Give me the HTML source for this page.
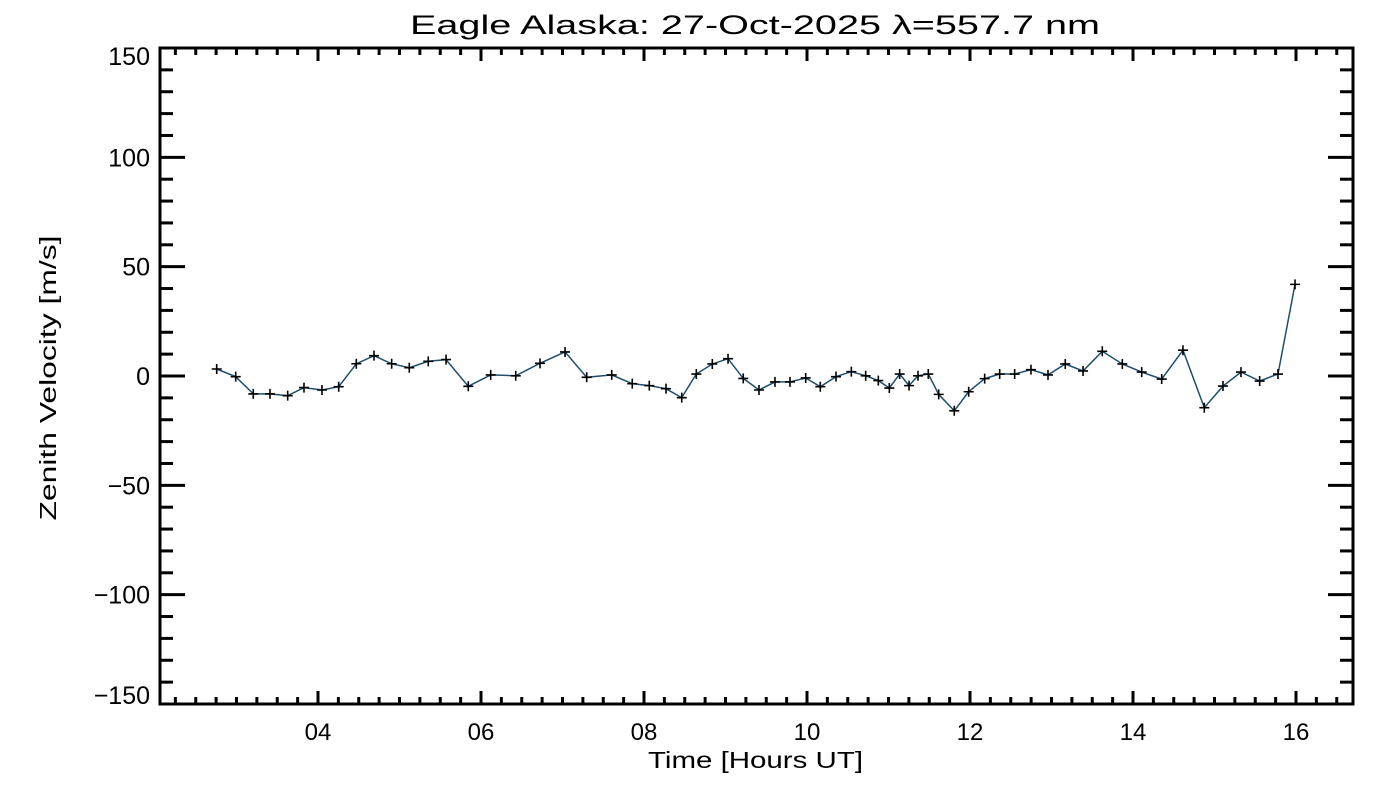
<!DOCTYPE html>
<html><head><meta charset="utf-8"><style>
html,body{margin:0;padding:0;background:#fff;}
svg{display:block;font-family:"Liberation Sans",sans-serif;}
</style></head><body>
<svg id="chart" width="1400" height="800" viewBox="0 0 1400 800" xmlns="http://www.w3.org/2000/svg">
<rect width="1400" height="800" fill="#fff"/>
<text x="410" y="34" font-size="27" textLength="690" lengthAdjust="spacingAndGlyphs" fill="#000">Eagle Alaska: 27-Oct-2025 λ=557.7 nm</text>
<text x="648" y="768" font-size="23" textLength="215" lengthAdjust="spacingAndGlyphs" fill="#000">Time [Hours UT]</text>
<text x="0" y="0" font-size="23" textLength="285" lengthAdjust="spacingAndGlyphs" text-anchor="middle" fill="#000" transform="translate(56,378) rotate(-90)">Zenith Velocity [m/s]</text>
<g id="axes"></g>
<g id="series"></g>
</svg>
<script>
const hours=[2.757,2.99,3.206,3.411,3.628,3.828,4.049,4.254,4.470,4.687,4.904,5.120,5.353,5.571,5.844,6.119,6.426,6.724,7.031,7.297,7.604,7.856,8.065,8.270,8.463,8.642,8.838,9.031,9.218,9.411,9.607,9.791,9.984,10.163,10.356,10.544,10.720,10.875,11.010,11.137,11.252,11.362,11.488,11.616,11.807,11.984,12.180,12.364,12.548,12.748,12.957,13.169,13.387,13.623,13.869,14.107,14.352,14.613,14.875,15.104,15.325,15.554,15.779,15.988];
const velocity=[3.2,-0.3,-8.2,-8.2,-9.0,-5.3,-6.4,-4.9,5.6,9.3,5.6,3.8,6.7,7.5,-4.7,0.5,0.1,5.8,11.0,-0.6,0.5,-3.5,-4.4,-5.8,-9.9,0.9,5.5,7.9,-1.1,-6.4,-2.7,-2.7,-0.9,-4.9,-0.3,2.0,0.1,-2.1,-5.5,0.9,-4.4,0.1,0.9,-8.4,-15.9,-7.2,-1.2,0.9,0.9,2.9,0.5,5.5,2.3,11.3,5.5,1.8,-1.4,11.8,-14.5,-4.6,1.8,-2.3,0.9,41.9];
const xTickValues=[4,6,8,10,12,14,16];
const xTickLabels=["04","06","08","10","12","14","16"];
const yTickValues=[-150,-100,-50,0,50,100,150];
const yTickLabels=["\u2212150","\u2212100","\u221250","0","50","100","150"];

const L=160,R=1353,T=48,B=704;
const xMin=4-(318-L)/81.5, xMax=4+(R-318)/81.5;
const yMin=-150,yMax=150;
function xs(h){return L+(h-xMin)/(xMax-xMin)*(R-L);}
function ys(v){return B-(v-yMin)/(yMax-yMin)*(B-T);}
const NS="http://www.w3.org/2000/svg";
function mk(tag,attrs,parent){const e=document.createElementNS(NS,tag);for(const k in attrs)e.setAttribute(k,attrs[k]);parent.appendChild(e);return e;}
const axes=document.getElementById('axes'), ser=document.getElementById('series');

const frame=mk('rect',{x:L,y:T,width:R-L,height:B-T,fill:'none',stroke:'#000','stroke-width':3},axes);



for(let h=Math.ceil(xMin*4)/4;h<=xMax;h+=0.25){
  const x=xs(h); const major=Math.abs(h/2-Math.round(h/2))<1e-6;
  const len=major?13:7;
  const t1=mk('line',{x1:x,x2:x,y1:B,y2:B-len,stroke:'#000','stroke-width':3},axes);
  
  
  const t2=mk('line',{x1:x,x2:x,y1:T,y2:T+len,stroke:'#000','stroke-width':3},axes);
  
  
}
xTickValues.forEach((v,i)=>{
  const t=mk('text',{x:xs(v),y:740,'font-size':24,'text-anchor':'middle',fill:'#000'},axes);
  t.textContent=xTickLabels[i];
  
  
});
for(let v=yMin;v<=yMax;v+=10){
  const y=ys(v); const major=v%50===0;
  const len=major?25:13;
  const t1=mk('line',{x1:L,x2:L+len,y1:y,y2:y,stroke:'#000','stroke-width':3},axes);
  
  
  const t2=mk('line',{x1:R,x2:R-len,y1:y,y2:y,stroke:'#000','stroke-width':3},axes);
  
  
}
yTickValues.forEach((v,i)=>{
  let y=ys(v)+9;
  if(v===yMax) y=ys(v)+17;
  if(v===yMin) y=ys(v);
  const t=mk('text',{x:150,y:y,'font-size':25,'text-anchor':'end',fill:'#000'},axes);
  t.textContent=yTickLabels[i];
  
  
});
const pts=hours.map((h,i)=>xs(h).toFixed(1)+','+ys(velocity[i]).toFixed(1)).join(' ');
const pl=mk('polyline',{points:pts,fill:'none',stroke:'#1d4e6e','stroke-width':1.5},ser);


hours.forEach((h,i)=>{
  const x=xs(h),y=ys(velocity[i]);
  const p=mk('path',{d:`M${x-5},${y}H${x+5}M${x},${y-5}V${y+5}`,stroke:'#000','stroke-width':1.6,fill:'none'},ser);
  
  
});
</script>
</body></html>
